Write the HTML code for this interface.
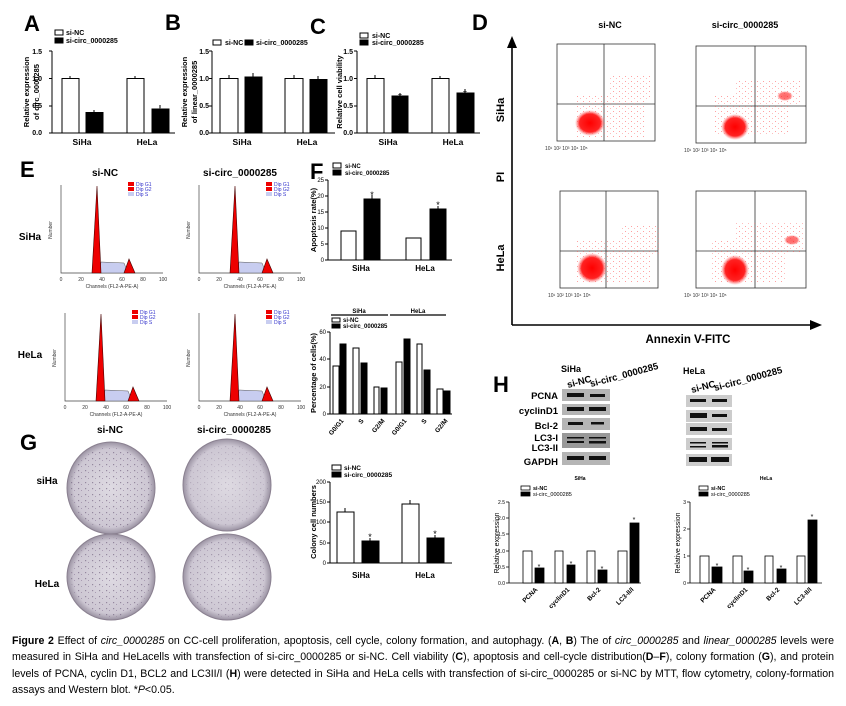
<!DOCTYPE html>
<html><head><meta charset="utf-8"><style>
body{margin:0;background:#fff;width:846px;height:706px;overflow:hidden;position:relative;font-family:"Liberation Sans",sans-serif}
svg{position:absolute;left:0;top:0}
.cap{position:absolute;left:12px;top:633px;width:822px;font-size:10.6px;line-height:16.3px;text-align:justify;color:#000}
</style></head><body>
<svg width="846" height="632" viewBox="0 0 846 632" font-family="Liberation Sans, sans-serif">
<defs>
<radialGradient id="plate" cx="50%" cy="50%" r="50%"><stop offset="0" stop-color="#dedae2"/><stop offset="0.85" stop-color="#cdc7d3"/><stop offset="1" stop-color="#9a92a2"/></radialGradient>
<radialGradient id="blob" cx="50%" cy="50%" r="50%"><stop offset="0" stop-color="#f00"/><stop offset="0.7" stop-color="#f22"/><stop offset="1" stop-color="#f66" stop-opacity="0"/></radialGradient>
<pattern id="dots" width="6" height="5" patternUnits="userSpaceOnUse"><rect x="1" y="1" width="1" height="1" fill="#f55"/><rect x="4" y="3" width="1" height="1" fill="#f88"/></pattern>
<pattern id="pdots" width="7" height="6" patternUnits="userSpaceOnUse"><rect x="1" y="2" width="1.2" height="1.2" fill="#6b5a78"/><rect x="4" y="4" width="1" height="1" fill="#8d7a99"/></pattern>
</defs>
<g font-weight="bold" font-size="22">
<text x="24" y="31">A</text><text x="165" y="30">B</text><text x="310" y="34">C</text><text x="472" y="30">D</text>
<text x="20" y="177">E</text><text x="310" y="179">F</text><text x="20" y="450">G</text><text x="493" y="392">H</text>
</g>
<!-- Panel A -->
<g stroke="#000" stroke-width="1" fill="none">
<path d="M52 51V133H175M49 51H52M49 78.5H52M49 106H52M49 133H52"/>
<rect x="62" y="78.5" width="17" height="54.5" fill="#fff"/><rect x="86" y="112.5" width="17" height="20.5" fill="#000"/>
<rect x="127" y="78.5" width="17" height="54.5" fill="#fff"/><rect x="152" y="109" width="17" height="24" fill="#000"/>
<path d="M70 78.5V76M135 78.5V76M94 112V110M160 108V105"/>
<rect x="55" y="30" width="8" height="5" fill="#fff"/><rect x="55" y="38" width="8" height="5" fill="#000"/>
</g>
<g font-size="7" font-weight="bold"><text x="66" y="35">si-NC</text><text x="66" y="43">si-circ_0000285</text>
<text x="42" y="54" text-anchor="end">1.5</text><text x="42" y="81" text-anchor="end">1.0</text><text x="42" y="108" text-anchor="end">0.5</text><text x="42" y="135" text-anchor="end">0.0</text>
<text x="29" y="92" transform="rotate(-90 29 92)" text-anchor="middle" font-size="7.5">Relative expression</text>
<text x="39" y="92" transform="rotate(-90 39 92)" text-anchor="middle" font-size="7.5">of circ_0000285</text></g>
<g font-size="8.5" font-weight="bold" text-anchor="middle"><text x="82" y="145">SiHa</text><text x="147" y="145">HeLa</text></g>
<g font-size="10" text-anchor="middle"><text x="95" y="119">*</text><text x="160" y="115">*</text></g>
<!-- Panel B -->
<g stroke="#000" stroke-width="1" fill="none">
<path d="M212 51V133H335M209 51H212M209 78.5H212M209 106H212M209 133H212"/>
<rect x="220" y="78.5" width="18" height="54.5" fill="#fff"/><rect x="245" y="77" width="17" height="56" fill="#000"/>
<rect x="285" y="78.5" width="18" height="54.5" fill="#fff"/><rect x="310" y="79.5" width="17" height="53.5" fill="#000"/>
<path d="M229 78.5V75M253 77V73M294 78.5V75M318 79.5V76"/>
<rect x="213" y="40" width="8" height="5" fill="#fff"/><rect x="245" y="40" width="8" height="5" fill="#000"/>
</g>
<g font-size="7" font-weight="bold"><text x="225" y="45">si-NC</text><text x="256" y="45">si-circ_0000285</text>
<text x="209" y="54" text-anchor="end">1.5</text><text x="209" y="81" text-anchor="end">1.0</text><text x="209" y="108" text-anchor="end">0.5</text><text x="209" y="135" text-anchor="end">0.0</text>
<text x="187" y="92" transform="rotate(-90 187 92)" text-anchor="middle" font-size="7.5">Relative expression</text>
<text x="197" y="92" transform="rotate(-90 197 92)" text-anchor="middle" font-size="7.5">of linear_0000285</text></g>
<g font-size="8.5" font-weight="bold" text-anchor="middle"><text x="242" y="145">SiHa</text><text x="307" y="145">HeLa</text></g>
<!-- Panel C -->
<g stroke="#000" stroke-width="1" fill="none">
<path d="M357 51V133H480M354 51H357M354 78.5H357M354 106H357M354 133H357"/>
<rect x="367" y="78.5" width="17" height="54.5" fill="#fff"/><rect x="392" y="96" width="16" height="37" fill="#000"/>
<rect x="432" y="78.5" width="17" height="54.5" fill="#fff"/><rect x="457" y="93" width="17" height="40" fill="#000"/>
<path d="M375 78.5V75M400 95V93M440 78.5V76M465 92V89"/>
<rect x="360" y="33" width="8" height="5" fill="#fff"/><rect x="360" y="40" width="8" height="5" fill="#000"/>
</g>
<g font-size="7" font-weight="bold"><text x="372" y="38">si-NC</text><text x="372" y="45">si-circ_0000285</text>
<text x="353" y="54" text-anchor="end">1.5</text><text x="353" y="81" text-anchor="end">1.0</text><text x="353" y="108" text-anchor="end">0.5</text><text x="353" y="135" text-anchor="end">0.0</text>
<text x="342" y="92" transform="rotate(-90 342 92)" text-anchor="middle" font-size="7.5">Relative cell viability</text></g>
<g font-size="8.5" font-weight="bold" text-anchor="middle"><text x="388" y="145">SiHa</text><text x="453" y="145">HeLa</text></g>
<g font-size="10" text-anchor="middle"><text x="400" y="100">*</text><text x="465" y="97">*</text></g>
<!-- Panel D -->
<path d="M512 325V45" stroke="#000" stroke-width="1.6"/><path d="M507 48L512 36L517 48Z"/>
<path d="M512 325H812" stroke="#000" stroke-width="1.6"/><path d="M810 320L822 325L810 330Z"/>
<g font-weight="bold" font-size="11" text-anchor="middle">
<text x="610" y="28" font-size="9">si-NC</text><text x="745" y="28" font-size="9">si-circ_0000285</text>
<text x="504" y="110" transform="rotate(-90 504 110)">SiHa</text><text x="504" y="177" transform="rotate(-90 504 177)">PI</text><text x="504" y="258" transform="rotate(-90 504 258)">HeLa</text>
<text x="688" y="343" font-size="11.5">Annexin V-FITC</text></g>
<g fill="none" stroke="#333" stroke-width="0.8">
<rect x="557" y="44" width="98" height="97"/><path d="M604 44V141M557 104H655"/>
<rect x="696" y="46" width="110" height="97"/><path d="M755 46V143M696 106H806"/>
<rect x="560" y="191" width="98" height="97"/><path d="M606 191V288M560 251H658"/>
<rect x="696" y="191" width="110" height="97"/><path d="M755 191V288M696 251H806"/>
</g>
<g opacity="0.55">
<rect x="575" y="95" width="70" height="42" fill="url(#dots)"/><rect x="610" y="75" width="42" height="25" fill="url(#dots)"/>
<rect x="715" y="95" width="75" height="40" fill="url(#dots)"/><rect x="735" y="80" width="65" height="25" fill="url(#dots)"/>
<rect x="575" y="240" width="75" height="42" fill="url(#dots)"/><rect x="620" y="225" width="40" height="30" fill="url(#dots)"/>
<rect x="712" y="240" width="75" height="42" fill="url(#dots)"/><rect x="735" y="222" width="68" height="30" fill="url(#dots)"/>
</g>
<ellipse cx="590" cy="123" rx="15" ry="13" fill="url(#blob)"/><ellipse cx="735" cy="127" rx="14" ry="13" fill="url(#blob)"/>
<ellipse cx="592" cy="268" rx="15" ry="15" fill="url(#blob)"/><ellipse cx="735" cy="270" rx="14" ry="15" fill="url(#blob)"/>
<ellipse cx="785" cy="96" rx="8" ry="5" fill="url(#blob)" opacity="0.6"/><ellipse cx="792" cy="240" rx="8" ry="5" fill="url(#blob)" opacity="0.6"/>
<g font-size="5" fill="#333">
<text x="545" y="150">10¹  10²  10³  10⁴  10⁵</text><text x="684" y="152">10¹  10²  10³  10⁴  10⁵</text>
<text x="548" y="297">10¹  10²  10³  10⁴  10⁵</text><text x="684" y="297">10¹  10²  10³  10⁴  10⁵</text>
</g>
<!-- Panel E -->
<g font-weight="bold" text-anchor="middle"><text x="105" y="176" font-size="10">si-NC</text><text x="240" y="176" font-size="10">si-circ_0000285</text>
<text x="30" y="240" font-size="10">SiHa</text><text x="30" y="358" font-size="10">HeLa</text></g>
<g id="h1">
<path d="M61 185V273H163" stroke="#444" fill="none" stroke-width="0.7"/>
<path d="M99 273L101 262L124 263L128 273Z" fill="#c8cdf0" stroke="#555" stroke-width="0.5"/>
<path d="M92 273L97 186L101 273Z" fill="#e00" stroke="#400" stroke-width="0.6"/>
<path d="M124 273L129 259L135 273Z" fill="#e00" stroke="#400" stroke-width="0.6"/>
<rect x="128" y="182" width="6" height="4" fill="#e00"/><rect x="128" y="187" width="6" height="4" fill="#e00"/><rect x="128" y="192" width="6" height="4" fill="#c8cdf0"/>
<g font-size="5" fill="#33c"><text x="136" y="186">Dip G1</text><text x="136" y="191">Dip G2</text><text x="136" y="196">Dip S</text></g>
<g font-size="5" fill="#333" text-anchor="middle"><text x="61" y="281">0</text><text x="81" y="281">20</text><text x="102" y="281">40</text><text x="122" y="281">60</text><text x="143" y="281">80</text><text x="163" y="281">100</text><text x="112" y="288">Channels (FL2-A-PE-A)</text>
<text x="52" y="230" transform="rotate(-90 52 230)">Number</text></g>
</g>
<use href="#h1" x="138" y="0"/><use href="#h1" x="4" y="128"/><use href="#h1" x="138" y="128"/>
<!-- Panel F -->
<g stroke="#000" stroke-width="1" fill="none">
<path d="M328 180V260H452M325 180H328M325 196H328M325 212H328M325 228H328M325 244H328M325 260H328"/>
<rect x="341" y="231" width="15" height="29" fill="#fff"/><rect x="364" y="199" width="16" height="61" fill="#000"/>
<rect x="406" y="238" width="15" height="22" fill="#fff"/><rect x="430" y="209" width="16" height="51" fill="#000"/>
<rect x="333" y="163" width="8" height="5" fill="#fff"/><rect x="333" y="170" width="8" height="5" fill="#000"/>
<path d="M372 199V195M438 209V206"/>
</g>
<g font-size="6" font-weight="bold"><text x="345" y="168">si-NC</text><text x="345" y="175">si-circ_0000285</text></g>
<g font-size="6" text-anchor="end"><text x="324" y="182">25</text><text x="324" y="198">20</text><text x="324" y="214">15</text><text x="324" y="230">10</text><text x="324" y="246">5</text><text x="324" y="262">0</text></g>
<text x="316" y="220" transform="rotate(-90 316 220)" text-anchor="middle" font-size="7.5" font-weight="bold">Apoptosis rate(%)</text>
<g font-size="8" font-weight="bold" text-anchor="middle"><text x="361" y="271">SiHa</text><text x="425" y="271">HeLa</text></g>
<g font-size="9" text-anchor="middle"><text x="372" y="198">*</text><text x="438" y="208">*</text></g>
<!-- cell cycle -->
<g stroke="#000" stroke-width="1" fill="none">
<path d="M331 315H388M390 315H446" stroke-width="1.2"/>
<path d="M330 332V414H452M327 332H330M327 359H330M327 387H330M327 414H330"/>
<rect x="333" y="366" width="6" height="48" fill="#fff"/><rect x="340" y="344" width="6" height="70" fill="#000"/>
<rect x="353" y="348" width="6" height="66" fill="#fff"/><rect x="361" y="363" width="6" height="51" fill="#000"/>
<rect x="374" y="387" width="5" height="27" fill="#fff"/><rect x="381" y="388" width="6" height="26" fill="#000"/>
<rect x="396" y="362" width="6" height="52" fill="#fff"/><rect x="404" y="339" width="6" height="75" fill="#000"/>
<rect x="417" y="344" width="5" height="70" fill="#fff"/><rect x="424" y="370" width="6" height="44" fill="#000"/>
<rect x="437" y="389" width="6" height="25" fill="#fff"/><rect x="444" y="391" width="6" height="23" fill="#000"/>
<rect x="332" y="318" width="8" height="4" fill="#fff"/><rect x="332" y="324" width="8" height="4" fill="#000"/>
</g>
<g font-size="6" font-weight="bold"><text x="359" y="313" text-anchor="middle">SiHa</text><text x="418" y="313" text-anchor="middle">HeLa</text>
<text x="343" y="322">si-NC</text><text x="343" y="328">si-circ_0000285</text></g>
<g font-size="6" text-anchor="end"><text x="326" y="334">60</text><text x="326" y="361">40</text><text x="326" y="389">20</text><text x="326" y="416">0</text></g>
<text x="316" y="373" transform="rotate(-90 316 373)" text-anchor="middle" font-size="7.5" font-weight="bold">Percentage of cells(%)</text>
<g font-size="6.5" font-weight="bold" text-anchor="end">
<text transform="translate(344 421) rotate(-50)">G0/G1</text><text transform="translate(364 421) rotate(-50)">S</text><text transform="translate(385 421) rotate(-50)">G2/M</text>
<text transform="translate(407 421) rotate(-50)">G0/G1</text><text transform="translate(427 421) rotate(-50)">S</text><text transform="translate(448 421) rotate(-50)">G2/M</text></g>
<!-- Panel G -->
<g font-weight="bold" text-anchor="middle" font-size="10"><text x="110" y="433">si-NC</text><text x="234" y="433">si-circ_0000285</text>
<text x="47" y="484">siHa</text><text x="47" y="587">HeLa</text></g>
<g stroke="#8a8090" stroke-width="1">
<ellipse cx="111" cy="488" rx="44" ry="46" fill="url(#plate)"/><ellipse cx="227" cy="485" rx="44" ry="46" fill="url(#plate)"/>
<ellipse cx="111" cy="577" rx="44" ry="43" fill="url(#plate)"/><ellipse cx="227" cy="577" rx="44" ry="43" fill="url(#plate)"/></g>
<g opacity="0.6"><circle cx="111" cy="488" r="41" fill="url(#pdots)"/><circle cx="111" cy="577" r="40" fill="url(#pdots)"/></g>
<g opacity="0.25"><circle cx="227" cy="485" r="41" fill="url(#pdots)"/></g>
<g opacity="0.45"><circle cx="227" cy="577" r="40" fill="url(#pdots)"/></g>
<!-- colony chart -->
<g stroke="#000" stroke-width="1" fill="none">
<path d="M330 482V563H452M327 482H330M327 502H330M327 522H330M327 543H330M327 563H330"/>
<rect x="337" y="512" width="17" height="51" fill="#fff"/><rect x="362" y="541" width="17" height="22" fill="#000"/>
<rect x="402" y="504" width="17" height="59" fill="#fff"/><rect x="427" y="538" width="17" height="25" fill="#000"/>
<path d="M345 512V508M410 504V500M370 541V538M435 538V535"/>
<rect x="332" y="465" width="9" height="5" fill="#fff"/><rect x="332" y="472" width="9" height="5" fill="#000"/>
</g>
<g font-size="6.5" font-weight="bold"><text x="344" y="470">si-NC</text><text x="344" y="477">si-circ_0000285</text></g>
<g font-size="6" text-anchor="end"><text x="326" y="484">200</text><text x="326" y="504">150</text><text x="326" y="524">100</text><text x="326" y="545">50</text><text x="326" y="565">0</text></g>
<text x="316" y="522" transform="rotate(-90 316 522)" text-anchor="middle" font-size="7.5" font-weight="bold">Colony cell numbers</text>
<g font-size="8" font-weight="bold" text-anchor="middle"><text x="361" y="578">SiHa</text><text x="425" y="578">HeLa</text></g>
<g font-size="9" text-anchor="middle"><text x="370" y="540">*</text><text x="435" y="537">*</text></g>
<!-- Panel H blots -->
<g font-weight="bold">
<text x="561" y="372" font-size="9">SiHa</text><text x="683" y="374" font-size="9">HeLa</text>
<text transform="translate(568 388) rotate(-15)" font-size="9.5">si-NC</text><text transform="translate(591 387) rotate(-15)" font-size="9.5">si-circ_0000285</text>
<text transform="translate(692 393) rotate(-15)" font-size="9.5">si-NC</text><text transform="translate(715 391) rotate(-15)" font-size="9.5">si-circ_0000285</text>
<g font-size="9.5" text-anchor="end"><text x="558" y="399">PCNA</text><text x="558" y="414">cyclinD1</text><text x="558" y="429">Bcl-2</text><text x="558" y="441">LC3-I</text><text x="558" y="451">LC3-II</text><text x="558" y="465">GAPDH</text></g>
</g>
<g fill="#b5b5b5"><rect x="562" y="389" width="48" height="12"/><rect x="562" y="404" width="48" height="11"/><rect x="562" y="418" width="48" height="12"/><rect x="562" y="433" width="48" height="15" fill="#999"/><rect x="562" y="452" width="48" height="13"/>
<rect x="686" y="395" width="46" height="12" fill="#ccc"/><rect x="686" y="410" width="46" height="12" fill="#ccc"/><rect x="686" y="423" width="46" height="12" fill="#ccc"/><rect x="686" y="438" width="46" height="12" fill="#ccc"/><rect x="686" y="454" width="46" height="12" fill="#ccc"/></g>
<g fill="#111"><rect x="567" y="393" width="17" height="4"/><rect x="590" y="394" width="15" height="3"/><rect x="567" y="407" width="17" height="4"/><rect x="589" y="407" width="17" height="4"/><rect x="568" y="422" width="15" height="3"/><rect x="591" y="422" width="13" height="2.5"/><rect x="567" y="437" width="17" height="1.5"/><rect x="567" y="441" width="17" height="2"/><rect x="589" y="437" width="17" height="1.5"/><rect x="589" y="441" width="17" height="2.5"/><rect x="567" y="456" width="17" height="4"/><rect x="589" y="456" width="17" height="4"/>
<rect x="690" y="399" width="16" height="3"/><rect x="712" y="399" width="15" height="3"/><rect x="690" y="413" width="17" height="5"/><rect x="712" y="414" width="15" height="3"/><rect x="690" y="427" width="17" height="4"/><rect x="712" y="428" width="15" height="3"/><rect x="690" y="442" width="16" height="1.5"/><rect x="690" y="446" width="16" height="1.5"/><rect x="712" y="442" width="16" height="1.5"/><rect x="712" y="445" width="16" height="2.5"/><rect x="689" y="457" width="18" height="5"/><rect x="711" y="457" width="18" height="5"/></g>
<!-- H charts -->
<g font-size="5" font-weight="bold" text-anchor="middle"><text x="580" y="480">SiHa</text><text x="766" y="480">HeLa</text></g>
<g stroke="#000" stroke-width="0.8" fill="none">
<path d="M509 502V583H641M506 502H509M506 518H509M506 534H509M506 551H509M506 567H509M506 583H509"/>
<rect x="523" y="551" width="9" height="32" fill="#fff"/><rect x="535" y="568" width="9" height="15" fill="#000"/>
<rect x="555" y="551" width="8" height="32" fill="#fff"/><rect x="567" y="565" width="8" height="18" fill="#000"/>
<rect x="587" y="551" width="8" height="32" fill="#fff"/><rect x="598" y="570" width="9" height="13" fill="#000"/>
<rect x="618" y="551" width="9" height="32" fill="#fff"/><rect x="630" y="523" width="9" height="60" fill="#000"/>
<rect x="521" y="486" width="9" height="4" fill="#fff"/><rect x="521" y="492" width="9" height="4" fill="#000"/>
<path d="M690 502V583H822M687 502H690M687 529H690M687 556H690M687 583H690"/>
<rect x="700" y="556" width="9" height="27" fill="#fff"/><rect x="712" y="567" width="10" height="16" fill="#000"/>
<rect x="733" y="556" width="9" height="27" fill="#fff"/><rect x="744" y="571" width="9" height="12" fill="#000"/>
<rect x="765" y="556" width="8" height="27" fill="#fff"/><rect x="777" y="569" width="9" height="14" fill="#000"/>
<rect x="797" y="556" width="8" height="27" fill="#fff"/><rect x="808" y="520" width="9" height="63" fill="#000"/>
<rect x="699" y="486" width="9" height="4" fill="#fff"/><rect x="699" y="492" width="9" height="4" fill="#000"/>
</g>
<g font-size="5.5"><text x="533" y="490" font-weight="bold">si-NC</text><text x="533" y="496">si-circ_0000285</text><text x="711" y="490" font-weight="bold">si-NC</text><text x="711" y="496">si-circ_0000285</text></g>
<g font-size="5" text-anchor="end"><text x="505" y="504">2.5</text><text x="505" y="520">2.0</text><text x="505" y="536">1.5</text><text x="505" y="553">1.0</text><text x="505" y="569">0.5</text><text x="505" y="585">0.0</text>
<text x="686" y="504">3</text><text x="686" y="531">2</text><text x="686" y="558">1</text><text x="686" y="585">0</text></g>
<g font-size="7" text-anchor="middle"><text x="499" y="543" transform="rotate(-90 499 543)">Relative expression</text><text x="680" y="543" transform="rotate(-90 680 543)">Relative expression</text></g>
<g font-size="6.5" font-weight="bold" text-anchor="end">
<text transform="translate(538 590) rotate(-45)">PCNA</text><text transform="translate(570 590) rotate(-45)">cyclinD1</text><text transform="translate(601 590) rotate(-45)">Bcl-2</text><text transform="translate(634 590) rotate(-45)">LC3-II/I</text>
<text transform="translate(716 590) rotate(-45)">PCNA</text><text transform="translate(748 590) rotate(-45)">cyclinD1</text><text transform="translate(780 590) rotate(-45)">Bcl-2</text><text transform="translate(812 590) rotate(-45)">LC3-II/I</text></g>
<g font-size="7" text-anchor="middle"><text x="539" y="569">*</text><text x="571" y="566">*</text><text x="602" y="571">*</text><text x="634" y="522">*</text><text x="717" y="568">*</text><text x="748" y="572">*</text><text x="781" y="570">*</text><text x="812" y="519">*</text></g>
</svg>
<div class="cap"><b>Figure 2</b> Effect of <i>circ_0000285</i> on CC-cell proliferation, apoptosis, cell cycle, colony formation, and autophagy. (<b>A</b>, <b>B</b>) The of <i>circ_0000285</i> and <i>linear_0000285</i> levels were measured in SiHa and HeLacells with transfection of si-circ_0000285 or si-NC. Cell viability (<b>C</b>), apoptosis and cell-cycle distribution(<b>D</b>–<b>F</b>), colony formation (<b>G</b>), and protein levels of PCNA, cyclin D1, BCL2 and LC3II/I (<b>H</b>) were detected in SiHa and HeLa cells with transfection of si-circ_0000285 or si-NC by MTT, flow cytometry, colony-formation assays and Western blot. *<i>P</i>&lt;0.05.</div>
</body></html>
